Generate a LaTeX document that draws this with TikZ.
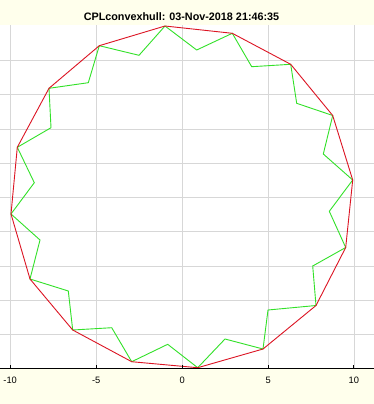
\documentclass[tikz,border=0pt]{standalone}
\usepackage{fontspec}
\setmainfont{Liberation Sans}
\definecolor{bgyellow}{RGB}{255,255,236}
\definecolor{gridgray}{RGB}{215,215,215}
\definecolor{polygreen}{RGB}{50,225,40}
\definecolor{hullred}{RGB}{220,20,35}
\begin{document}
\begin{tikzpicture}[x=1pt,y=-1pt,
  gridline/.style={draw=gridgray,line width=0.7pt},
  polyline/.style={draw=polygreen,line width=0.9pt,line join=miter},
  hullline/.style={draw=hullred,line width=0.9pt,line join=miter},
  ticklabel/.style={font=\fontsize{9.3}{11}\selectfont,anchor=base,inner sep=0pt},
  titlelabel/.style={font=\bfseries\fontsize{10.8}{13}\selectfont,anchor=base,inner sep=0pt}]
\useasboundingbox (0,0) rectangle (374,404);
\fill[bgyellow] (0,0) rectangle (374,404);
\fill[white] (0,25.5) rectangle (374,368.3);
% grid
\foreach \gx in {10.7,96.5,182.3,268.1,353.9} \draw[gridline] (\gx,25.5) -- (\gx,368.3);
\foreach \k in {-4,...,4} \draw[gridline] (0,197.5-34.3*\k) -- (374,197.5-34.3*\k);
% polygon
\draw[polyline] (165,26) -- (196.7,50) -- (232.3,33.3) -- (251.7,66.7) -- (290.7,64.3)
  -- (296.7,103.3) -- (332.7,115.5) -- (323.3,154) -- (352.7,180) -- (329.3,211.3)
  -- (345.7,247.5) -- (312.7,266) -- (316,305.5) -- (268,310) -- (263,349)
  -- (225,339) -- (197.7,367.7) -- (167.7,344.3) -- (131.7,361.7) -- (111.7,327.7)
  -- (72.7,330) -- (68.3,291) -- (30,279) -- (40,240) -- (11,214)
  -- (34.3,182.7) -- (17.3,147.3) -- (51,127.7) -- (49,88.3) -- (88.3,82.7)
  -- (99.3,45.7) -- (139,55.3) -- cycle;
% convex hull
\draw[hullline] (165,26) -- (232.3,33.3) -- (290.7,64.3) -- (332.7,115.5) -- (352.7,180)
  -- (345.7,247.5) -- (316,305.5) -- (263,349) -- (197.7,367.7) -- (131.7,361.7)
  -- (72.7,330) -- (30,279) -- (11,214) -- (17.3,147.3) -- (49,88.3) -- (99.3,45.7) -- cycle;
% axis
\draw[black,line width=0.9pt] (0,368.3) -- (374,368.3);
\foreach \gx in {10.7,96.5,182.3,268.1,353.9} \draw[black,line width=0.9pt] (\gx,368.3) -- (\gx,365);
\node[ticklabel] (tm10) at (10.2,383.3) {-10};
\node[ticklabel] (tm5) at (96.2,383.3) {-5};
\node[ticklabel] (t0) at (182.3,383.3) {0};
\node[ticklabel] (t5) at (268.1,383.3) {5};
\node[ticklabel] (t10) at (353.9,383.3) {10};
\node[titlelabel] (title) at (181.5,20.7) {CPLconvexhull: 03-Nov-2018 21:46:35};
\end{tikzpicture}
\end{document}
